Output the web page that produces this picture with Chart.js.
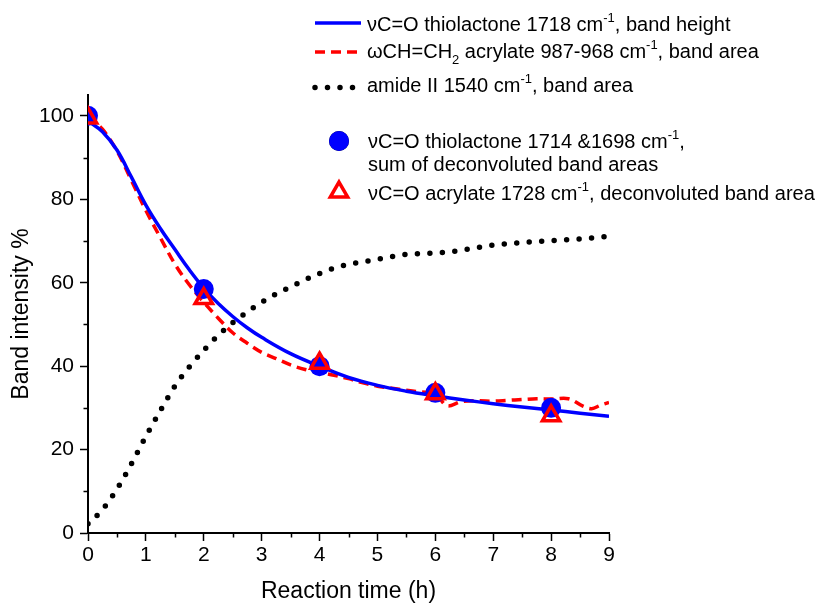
<!DOCTYPE html>
<html>
<head>
<meta charset="utf-8">
<script src="https://cdn.jsdelivr.net/npm/chart.js@4"></script>
<style>
  html, body { margin: 0; padding: 0; background: #fff; }
  #wrap { width: 822px; height: 605px; }
</style>
</head>
<body>
<div id="wrap"><canvas id="myChart" width="822" height="605"></canvas></div>
<script>
// 1718 band height (blue line)
var blueX = [0, 0.25, 0.5, 0.75, 1, 1.25, 1.5, 1.75, 2, 2.25, 2.5, 2.75, 3, 3.5, 4, 4.5, 5, 5.5, 6, 6.5, 7, 7.5, 8, 8.5, 9];
var blueY = [98.8, 96.2, 91.8, 85.3, 78.6, 73.0, 68.0, 63.1, 58.7, 55.0, 51.9, 49.2, 46.9, 43.0, 40.0, 37.3, 35.4, 34.0, 32.9, 31.9, 31.0, 30.2, 29.5, 28.7, 28.0];

// 987-968 band area (red dashed)
var redX = [0, 0.25, 0.5, 0.75, 1, 1.25, 1.5, 1.75, 2, 2.25, 2.5, 2.75, 3, 3.25, 3.5, 3.75, 4, 4.25, 4.5, 4.75, 5, 5.25, 5.5, 5.75, 6, 6.2, 6.45, 6.75, 7, 7.25, 7.5, 7.75, 8, 8.3, 8.55, 8.7, 8.85, 9];
var redY = [100, 96.8, 91.6, 84.5, 77.3, 70.8, 64.5, 59.5, 55.3, 51.5, 48, 45.5, 43.3, 41.8, 40.3, 39.2, 38.5, 37.8, 37, 36, 35.2, 34.7, 34.2, 33.8, 33.4, 30.5, 31.5, 31.7, 31.6, 31.8, 32, 32.2, 32.1, 32.2, 30.4, 29.8, 30.6, 31.3];

// amide II band area (black dots)
var blackX = [0, 0.25, 0.5, 0.75, 1, 1.25, 1.5, 1.75, 2, 2.25, 2.5, 2.75, 3, 3.25, 3.5, 3.75, 4, 4.25, 4.5, 5, 5.5, 6, 6.25, 6.5, 7, 7.5, 8, 8.5, 9];
var blackY = [2.2, 5.6, 10.5, 16.6, 23.2, 29.3, 35.2, 39.8, 43.8, 47.4, 50.4, 53.0, 55.3, 57.3, 59.0, 60.7, 62.2, 63.5, 64.4, 65.6, 66.8, 67.1, 67.4, 67.9, 69.0, 69.6, 70.1, 70.5, 71.1];

// deconvoluted points
var pointX = [0, 2, 4, 6, 8];
var circleY = [100, 58.5, 40.0, 33.6, 30.0];
var triangleY = [99.5, 56.2, 40.7, 33.4, 28.1];

// minor tick positions
var xMinor = [0.5, 1.5, 2.5, 3.5, 4.5, 5.5, 6.5, 7.5, 8.5];
var yMinor = [10, 30, 50, 70, 90];

var FONT = '"Liberation Sans", Arial, sans-serif';

function pts(xs, ys) {
  var out = [];
  for (var i = 0; i < xs.length; i++) out.push({ x: xs[i], y: ys[i] });
  return out;
}

// legend entries: text runs, sup / sub
var legendItems = [
  { ds: 0, sym: 'line', sx: 315, sy: 23, tx: 367, lines: [[['νC=O thiolactone 1718 cm'], ['-1', 'sup'], [', band height']]], base: 31 },
  { ds: 1, sym: 'line', sx: 315, sy: 52, tx: 367, lines: [[['ωCH=CH'], ['2', 'sub'], [' acrylate 987-968 cm'], ['-1', 'sup'], [', band area']]], base: 58 },
  { ds: 2, sym: 'line', sx: 315, sy: 87.5, tx: 367, lines: [[['amide II 1540 cm'], ['-1', 'sup'], [', band area']]], base: 92 },
  { ds: 3, sym: 'point', sx: 339, sy: 141, tx: 368, lines: [[['νC=O thiolactone 1714 &1698 cm'], ['-1', 'sup'], [',']], [['sum of deconvoluted band areas']]], base: 147.5 },
  { ds: 4, sym: 'point', sx: 339, sy: 192, tx: 368, lines: [[['νC=O acrylate 1728 cm'], ['-1', 'sup'], [', deconvoluted band area']]], base: 200 }
];

var legendPlugin = {
  id: 'richLegend',
  afterDraw: function (chart) {
    var ctx = chart.ctx;
    ctx.save();
    legendItems.forEach(function (item) {
      var ds = chart.data.datasets[item.ds];
      ctx.save();
      if (item.sym === 'line') {
        ctx.strokeStyle = ds.borderColor;
        ctx.lineWidth = ds.borderWidth;
        ctx.lineCap = ds.borderCapStyle || 'butt';
        ctx.setLineDash(ds.borderDash || []);
        ctx.beginPath();
        ctx.moveTo(item.sx, item.sy);
        ctx.lineTo(item.sx + (item.ds === 2 ? 38 : 46), item.sy);
        ctx.stroke();
      } else {
        Chart.helpers.drawPoint(ctx, {
          pointStyle: ds.pointStyle,
          radius: ds.pointRadius,
          borderWidth: ds.borderWidth
        }, item.sx, item.sy);
        ctx.fillStyle = ds.backgroundColor === 'transparent' ? '#fff' : ds.backgroundColor;
        ctx.strokeStyle = ds.borderColor;
        ctx.lineWidth = ds.borderWidth;
        ctx.fill();
        if (ds.borderWidth) ctx.stroke();
      }
      ctx.restore();

      ctx.fillStyle = '#000';
      ctx.textBaseline = 'alphabetic';
      ctx.textAlign = 'left';
      item.lines.forEach(function (runs, li) {
        var x = item.tx;
        var y = item.base + li * 23.5;
        runs.forEach(function (r) {
          var dy = 0;
          if (r[1] === 'sup') { ctx.font = '13px ' + FONT; dy = -9; }
          else if (r[1] === 'sub') { ctx.font = '13px ' + FONT; dy = 6; }
          else { ctx.font = '20px ' + FONT; }
          ctx.fillText(r[0], x, y + dy);
          x += ctx.measureText(r[0]).width;
        });
      });
    });
    ctx.restore();
  }
};

var minorTicks = {
  id: 'minorTicks',
  afterDraw: function (chart) {
    var ctx = chart.ctx, xs = chart.scales.x, ys = chart.scales.y;
    ctx.save();
    ctx.strokeStyle = '#000';
    ctx.lineWidth = 1.5;
    ctx.beginPath();
    xMinor.forEach(function (v) {
      var px = Math.round(xs.getPixelForValue(v)) + 0.5;
      ctx.moveTo(px, ys.bottom);
      ctx.lineTo(px, ys.bottom + 4.5);
    });
    yMinor.forEach(function (v) {
      var py = Math.round(ys.getPixelForValue(v)) + 0.5;
      ctx.moveTo(xs.left, py);
      ctx.lineTo(xs.left - 4.5, py);
    });
    ctx.stroke();
    ctx.restore();
  }
};

var ctx = document.getElementById('myChart');
var myChart = new Chart(ctx, {
  type: 'scatter',
  data: {
    datasets: [
      { label: 'νC=O thiolactone 1718 cm-1, band height', data: pts(blueX, blueY), showLine: true,
        borderColor: '#0000ff', borderWidth: 3.5, pointRadius: 0, tension: 0.4, order: 2 },
      { label: 'ωCH=CH2 acrylate 987-968 cm-1, band area', data: pts(redX, redY), showLine: true,
        borderColor: '#ff0000', borderWidth: 3.5, borderDash: [10, 6], pointRadius: 0, tension: 0.35, order: 3 },
      { label: 'amide II 1540 cm-1, band area', data: pts(blackX, blackY), showLine: true,
        borderColor: '#000000', borderWidth: 5.5, borderDash: [0, 12.5], borderCapStyle: 'round',
        pointRadius: 0, cubicInterpolationMode: 'monotone', order: 4 },
      { label: 'νC=O thiolactone 1714 &1698 cm-1, sum of deconvoluted band areas', data: pts(pointX, circleY),
        pointStyle: 'circle', pointRadius: 10, backgroundColor: '#0000ff', borderColor: '#0000ff', borderWidth: 0, clip: 0, order: 1 },
      { label: 'νC=O acrylate 1728 cm-1, deconvoluted band area', data: pts(pointX, triangleY),
        pointStyle: 'triangle', pointRadius: 10, backgroundColor: 'transparent', borderColor: '#ff0000', borderWidth: 3.5, clip: 0, order: 0 }
    ]
  },
  options: {
    responsive: false,
    animation: false,
    devicePixelRatio: 1,
    layout: { padding: { top: 95, right: 213, left: 0, bottom: 0 } },
    plugins: { legend: { display: false }, tooltip: { enabled: false } },
    scales: {
      x: {
        type: 'linear', min: 0, max: 9,
        afterFit: function (s) { s.height = 72; },
        ticks: { stepSize: 1, includeBounds: false, color: '#000', padding: 2, font: { family: FONT, size: 21 } },
        grid: { drawOnChartArea: false, drawTicks: true, tickLength: 8, tickWidth: 1.5, tickColor: '#000' },
        border: { display: true, color: '#000', width: 2 },
        title: { display: true, text: 'Reaction time (h)', color: '#000', padding: { top: 0, bottom: 0 }, font: { family: FONT, size: 23 } }
      },
      y: {
        type: 'linear', min: 0, max: 105,
        afterFit: function (s) { s.width = 88; },
        ticks: { stepSize: 20, includeBounds: false, color: '#000', padding: 6, font: { family: FONT, size: 21 } },
        grid: { drawOnChartArea: false, drawTicks: true, tickLength: 8, tickWidth: 1.5, tickColor: '#000' },
        border: { display: true, color: '#000', width: 2 },
        title: { display: true, text: 'Band intensity %', color: '#000', padding: { top: 8, bottom: 0 }, font: { family: FONT, size: 23 } }
      }
    }
  },
  plugins: [minorTicks, legendPlugin]
});
</script>
</body>
</html>
